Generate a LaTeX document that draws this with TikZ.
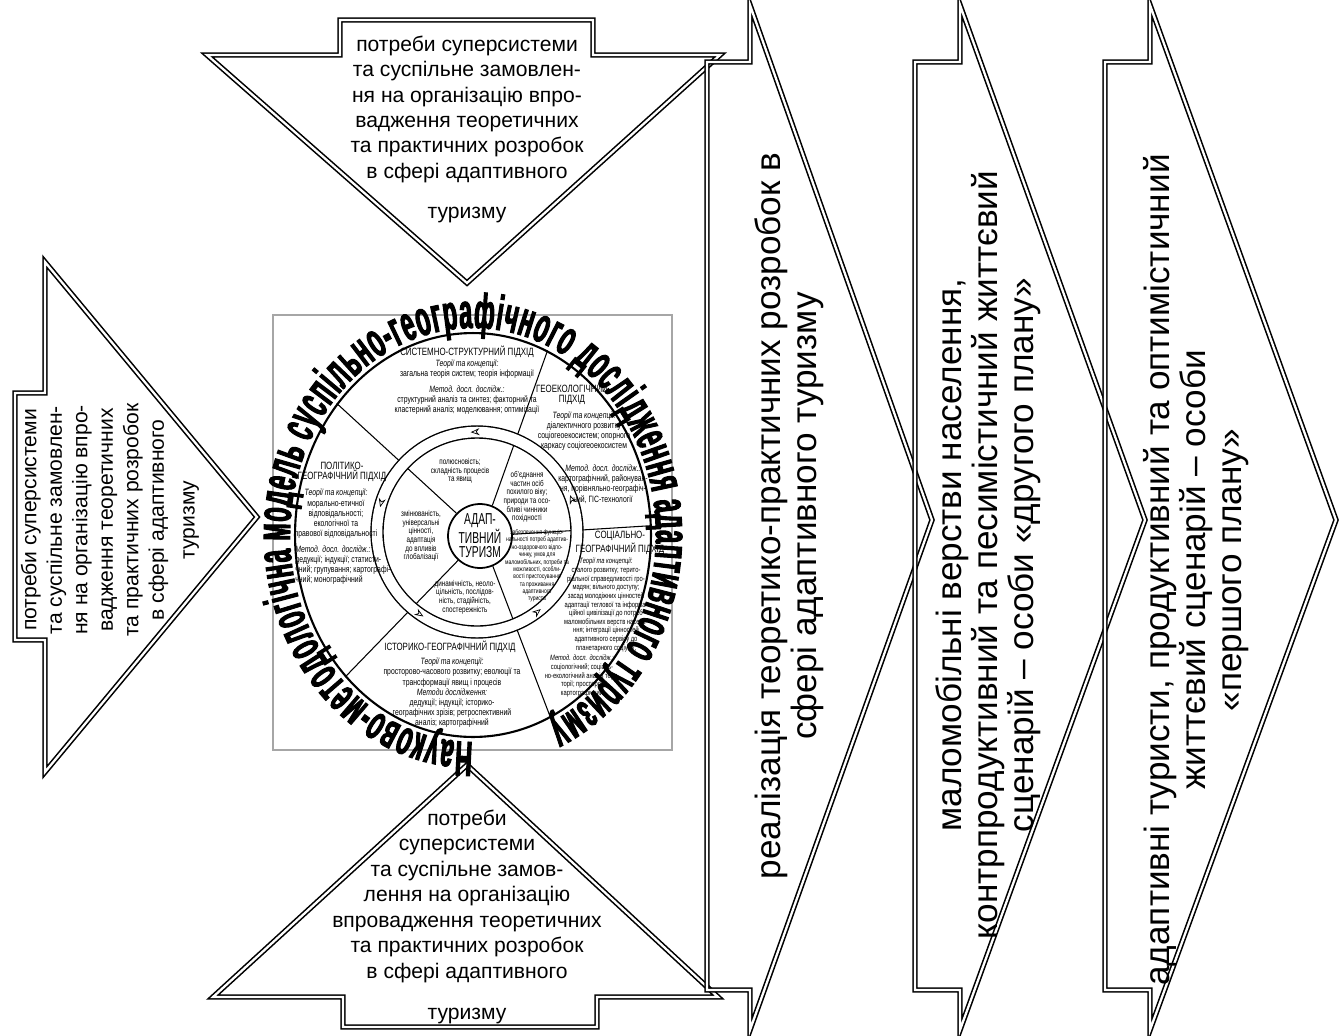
\documentclass[tikz,border=0pt]{standalone}
\usepackage{fontspec}
\setmainfont{Liberation Sans}
\newfontfamily\narrowfont[FakeStretch=0.75]{Liberation Sans}
\newfontfamily\corefont[FakeStretch=0.65]{Liberation Sans}
\newfontfamily\arcfont[FakeStretch=0.48, FakeBold=2]{Liberation Sans Bold}
\usetikzlibrary{arrows.meta, shapes.geometric, decorations.text, decorations.markings}

\begin{document}
\begin{tikzpicture}[x=0.02cm, y=0.02cm,
    bigarrow/.style={draw=black, line width=0.9pt, double=white, double distance=1.3pt, line join=miter},
    needtext/.style={font=\fontsize{12}{14.5}\selectfont, align=center, inner sep=0pt},
    flowtext/.style={font=\fontsize{20}{20.5}\selectfont, align=center, rotate=90, inner sep=0pt},
    sectitle/.style={font=\narrowfont\fontsize{6}{5.8}\selectfont, align=center, inner sep=0pt},
    sectext/.style={font=\narrowfont\fontsize{5.2}{5.8}\selectfont, align=center, inner sep=0pt},
    tinytext/.style={font=\narrowfont\fontsize{4.4}{4.9}\selectfont, align=center, inner sep=0pt},
    innertext/.style={font=\narrowfont\fontsize{4.8}{4.9}\selectfont, align=center, inner sep=0pt},
    spoke/.style={draw=black, line width=0.6pt},
    ring/.style={draw=black, line width=0.8pt, double=white, double distance=6pt},
    ringmark/.style={decoration={markings, mark=between positions 0.06 and 1 step 0.2 with {\arrow{Stealth[length=5pt, width=4pt, open]}}}, decorate}
]
    \useasboundingbox (0,0) rectangle (1339,-1035);

    % === TOP ARROW ===
    \draw[bigarrow] (340,-20) -- (593,-20) -- (593,-55) -- (720,-55) -- (467,-283) -- (207,-55) -- (340,-55) -- cycle;
    \node[needtext] (needtop) at (467,-129) {потреби суперсистеми\\та суспільне замовлен-\\ня на організацію впро-\\вадження теоретичних\\та практичних розробок\\в сфері адаптивного\\[8pt]туризму};

    % === LEFT ARROW ===
    \draw[bigarrow] (15,-393) -- (45,-393) -- (45,-262) -- (257,-517) -- (45,-772) -- (45,-640) -- (15,-640) -- cycle;
    \node[needtext, rotate=90] (needleft) at (110,-520) {потреби суперсистеми\\та суспільне замовлен-\\ня на організацію впро-\\вадження теоретичних\\та практичних розробок\\в сфері адаптивного\\[3pt]туризму};

    % === BOTTOM ARROW ===
    \draw[bigarrow] (467,-765) -- (718,-997) -- (597,-997) -- (597,-1027) -- (343,-1027) -- (343,-997) -- (213,-997) -- cycle;
    \node[needtext] (needbottom) at (467,-917) {потреби\\суперсистеми\\та суспільне замов-\\лення на організацію\\впровадження теоретичних\\та практичних розробок\\в сфері адаптивного\\[9pt]туризму};

    % === RESULT CHEVRONS ===
    \foreach \xt/\xb/\xa in {707/750/932, 915/960/1145, 1105/1150/1336}
        \draw[bigarrow] (\xt,-62) -- (\xb,-62) -- (\xb,-5) -- (\xa,-520) -- (\xb,-1030) -- (\xb,-990) -- (\xt,-990) -- cycle;
    \node[flowtext] (flowone) at (789,-516) {реалізація теоретико-практичних розробок в\\сфері адаптивного туризму};
    \node[flowtext] (flowtwo) at (988,-555) {маломобільні верстви населення,\\контрпродуктивний та песимістичний життєвий\\сценарій – особи «другого плану»};
    \node[flowtext] (flowthree) at (1196,-570) {адаптивні туристи, продуктивний та оптимістичний\\життєвий сценарій – особи\\«першого плану»};

    % === MODEL ===
    \draw[gray!70, line width=0.6pt] (273,-315) rectangle (672,-750);
    \node[ellipse, draw, line width=1.2pt, minimum width=7.12cm, minimum height=8.08cm, inner sep=0pt] (model) at (473,-535) {};
    \node[circle, draw, line width=1pt, minimum size=1.28cm, inner sep=0pt, align=center, font=\corefont\fontsize{9}{8}\selectfont] (core) at (480,-536) {АДАП-\\ТИВНИЙ\\ТУРИЗМ};

    % spokes between approaches
    \foreach \a in {136, 68, 3, -67, -132}
        \draw[spoke] (core.\a) -- (model.\a);

    % circulation ring
    \draw[ring] (477,-532) circle[radius=100];
    \path[ringmark] (477,-532) circle[radius=100];

    % title round the model
    \path[decorate, decoration={text along path, text align=fit to path,
        text={|\arcfont\fontsize{28}{28}\selectfont|Науково-методологічна модель суспільно-географічного дослідження адаптивного туризму}}]
        (473,-535) ++(270:183 and 207) arc[start angle=270, end angle=-66, x radius=183, y radius=207];

    % outer approaches
    \node[sectitle] (systitle) at (467,-352) {СИСТЕМНО-СТРУКТУРНИЙ ПІДХІД};
    \node[sectext] (sysbody) at (467,-387) {\textit{Теорії та концепції:}\\загальна теорія систем; теорія інформації\\[3pt]\textit{Метод. досл. дослідж.:}\\структурний аналіз та синтез; факторний та\\кластерний аналіз; моделювання; оптимізації};

    \node[sectitle] (geotitle) at (572,-394) {ГЕОЕКОЛОГІЧНИЙ\\ПІДХІД};
    \node[sectext] (geobody) at (584,-431) {\textit{Теорії та концепції:}\\діалектичного розвитку\\соціогеоекосистем; опорного\\каркасу соціогеоекосистем};
    \node[sectext] (geometh) at (603,-484) {\textit{Метод. досл. дослідж.:}\\картографічний, районуван-\\ня, порівняльно-географіч-\\ний, ГІС-технології};

    \node[sectitle] (soctitle) at (620,-543) {СОЦІАЛЬНО-\\ГЕОГРАФІЧНИЙ ПІДХІД};
    \node[tinytext] (socbody) at (606,-605) {\textit{Теорії та концепції:}\\сталого розвитку; терито-\\ріальної справедливості гро-\\мадян; вільного доступу;\\засад молодіжних цінностей\\адаптації теглової та інформа-\\ційної цивілізації до потреб\\маломобільних верств населе-\\ння; інтеграції цінностей\\адаптивного сервісу до\\планетарного соціуму;};
    \node[tinytext] (socmeth) at (582,-676) {\textit{Метод. досл. дослідж.:}\\соціологічний; соціаль-\\но-екологічний аналіз тери-\\торії; просторо-\\картографічний};

    \node[sectitle] (poltitle) at (342,-472) {ПОЛІТИКО-\\ГЕОГРАФІЧНИЙ ПІДХІД};
    \node[sectext] (polbody) at (336,-514) {\textit{Теорії та концепції:}\\морально-етичної\\відповідальності;\\екологічної та\\правової відповідальності};
    \node[sectext, anchor=west, align=left] (polmeth) at (295,-565) {\textit{Метод. досл. дослідж.:}\\дедукції; індукції; статисти-\\чний; групування; картографі-\\чний; монографічний};

    \node[sectitle] (histitle) at (450,-647) {ІСТОРИКО-ГЕОГРАФІЧНИЙ ПІДХІД};
    \node[sectext] (hisbody) at (452,-693) {\textit{Теорії та концепції:}\\просторово-часового розвитку; еволюції та\\трансформації явищ і процесів\\\textit{Методи дослідження:}\\дедукції; індукції; історико-\\географічних зрізів; ретроспективний\\аналіз; картографічний};

    % inner properties
    \node[innertext] (intop) at (460,-471) {полюсновість;\\складність процесів\\та явищ};
    \node[innertext] (inright) at (527,-497) {об’єднання\\частин осіб\\похилого віку;\\природи та осо-\\бливі чинники\\похідності};
    \node[tinytext, font=\narrowfont\fontsize{3.8}{4.2}\selectfont] (inlow) at (537,-566) {забезпечення функціо-\\нальності потреб адаптив-\\но-оздоровчого відпо-\\чинку, умов для\\маломобільних, потреби та\\можливості, особли-\\вості пристосування\\та проживання\\адаптивного\\туриста};
    \node[innertext] (inbottom) at (465,-597) {динамічність, неоло-\\цільність, послідов-\\ність, стадійність,\\спостережність};
    \node[innertext] (inleft) at (421,-536) {змінюваність,\\універсальні\\цінності,\\адаптація\\до впливів\\глобалізації};
\end{tikzpicture}
\end{document}
